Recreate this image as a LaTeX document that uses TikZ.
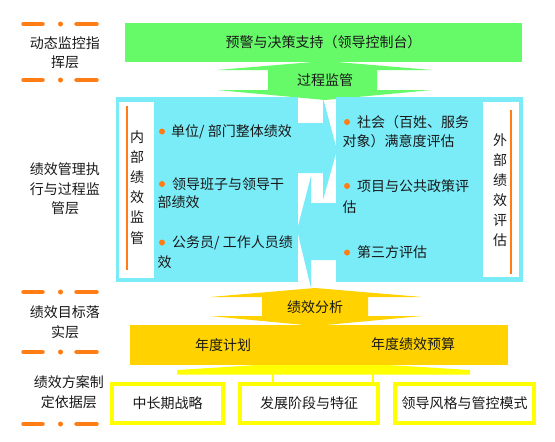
\documentclass[tikz,border=0pt]{standalone}
\usepackage{fontspec}
\newfontfamily\cjk{Noto Sans CJK SC}
\definecolor{grn}{RGB}{102,250,104}
\definecolor{cyn}{RGB}{122,236,248}
\definecolor{gld}{RGB}{255,210,0}
\definecolor{lyel}{RGB}{255,255,0}
\definecolor{org}{RGB}{255,125,20}
\definecolor{ink}{RGB}{25,25,25}
\tikzset{
  txt/.style={font=\cjk\fontsize{14}{16}\selectfont, text=ink, inner sep=0pt},
  lbl/.style={txt, align=center, font=\cjk\fontsize{14}{19.5}\selectfont},
  vert/.style={txt, align=center, font=\cjk\fontsize{14}{20.1}\selectfont},
  basebox/.style={draw=lyel, line width=3.5pt, fill=white, minimum height=39pt, inner sep=0pt, txt},
  markline/.style={draw=org, line width=4.5pt, line cap=round},
  bul/.style={fill=org},
  orline/.style={draw=org, line width=2.2pt},
  conn/.style={draw=lyel, line width=2.5pt},
}
\begin{document}
\begin{tikzpicture}[x=1pt,y=-1pt]
\useasboundingbox[fill=white] (0,0) rectangle (555,442);

% ---- left layer labels ----
\foreach \yy in {24,80,292,352,424} {
  \draw[markline] (23.5,\yy) -- (42.5,\yy);
  \fill[org] (60.5,\yy) circle (2.5pt);
  \draw[markline] (76.5,\yy) -- (96.5,\yy);
}
\node[lbl] (l1) at (65,52.5) {动态监控指\\挥层};
\node[lbl] (l2) at (65,189) {绩效管理执\\行与过程监\\管层};
\node[lbl] (l3) at (65,322) {绩效目标落\\实层};
\node[lbl] (l4) at (69,392) {绩效方案制\\定依据层};

% ---- green layer ----
\fill[grn] (217,70) -- (325,61) -- (432,70) -- (377,70) -- (377,90) -- (432,90)
  -- (325,100) -- (217,90) -- (268,90) -- (268,70) -- cycle;
\node[txt, fill=grn, minimum width=397pt, minimum height=39pt] (top) at (323.5,42.5)
  {预警与决策支持（领导控制台）};
\node[txt] (proc) at (325,80) {过程监管};

% ---- cyan layer ----
\fill[cyn] (116,97) rectangle (298,282);
\fill[cyn] (336,97) rectangle (523,282);
\fill[cyn] (297,123) -- (323,123) -- (323,98) -- (337,150) -- (323,200) -- (323,173)
  -- (297,173) -- cycle;
\fill[cyn] (336,203) -- (311,203) -- (311,176) -- (297,230) -- (311,288) -- (311,260)
  -- (336,260) -- cycle;
\fill[white] (119,102) rectangle (154,278);
\fill[white] (483,102) rectangle (519,277);
\draw[orline] (127,106) -- (127,270);
\draw[orline] (511,110) -- (511,274);
\node[vert] (inner) at (137,187.5) {内\\部\\绩\\效\\监\\管};
\node[vert] (outer) at (500,190) {外\\部\\绩\\效\\评\\估};

% left items
\fill[bul] (162,131.5) circle (3pt);
\node[txt, anchor=west] (a1) at (171,131.5) {单位/ 部门整体绩效};
\fill[bul] (162,184) circle (3pt);
\node[txt, anchor=west] (a2) at (172,184) {领导班子与领导干};
\node[txt, anchor=west] (a2b) at (157.5,202.5) {部绩效};
\fill[bul] (162,242.5) circle (3pt);
\node[txt, anchor=west] (a3) at (172,243) {公务员/ 工作人员绩};
\node[txt, anchor=west] (a3b) at (157.5,262) {效};

% right items
\fill[bul] (347,122) circle (3pt);
\node[txt, anchor=west] (b1) at (357,122) {社会（百姓、服务};
\node[txt, anchor=west] (b1b) at (342.5,141.5) {对象）满意度评估};
\fill[bul] (347,186) circle (3pt);
\node[txt, anchor=west] (b2) at (357,186) {项目与公共政策评};
\node[txt, anchor=west] (b2b) at (342.5,207) {估};
\fill[bul] (347,252.5) circle (3pt);
\node[txt, anchor=west] (b3) at (357,252.5) {第三方评估};

% ---- gold layer ----
\fill[gld] (210,297) -- (315,288) -- (422,297) -- (368,297) -- (368,316) -- (422,316)
  -- (315,326) -- (210,316) -- (262,316) -- (262,297) -- cycle;
\node[txt] (ana) at (315,307.5) {绩效分析};
\fill[lyel] (177,370) -- (323,361) -- (470,370) -- (470,374.5) -- (177,374.5) -- cycle;
\node[fill=gld, minimum width=378pt, minimum height=40pt, inner sep=0pt] (plan) at (319,345) {};
\node[txt] (p1) at (223,345) {年度计划};
\node[txt] (p2) at (413,344) {年度绩效预算};

% ---- basis boxes ----
\node[basebox, minimum width=111pt] (c1) at (167.5,403.5) {中长期战略};
\node[basebox, minimum width=138pt] (c2) at (309,403.5) {发展阶段与特征};
\node[basebox, minimum width=139pt] (c3) at (464.5,403.5) {领导风格与管控模式};
\coordinate (w1) at (273,373.5);
\coordinate (w2) at (373,373.5);
\draw[conn] (w1) -- (w1 |- c2.north);
\draw[conn] (w2) -- (w2 |- c2.north);
\end{tikzpicture}
\end{document}
